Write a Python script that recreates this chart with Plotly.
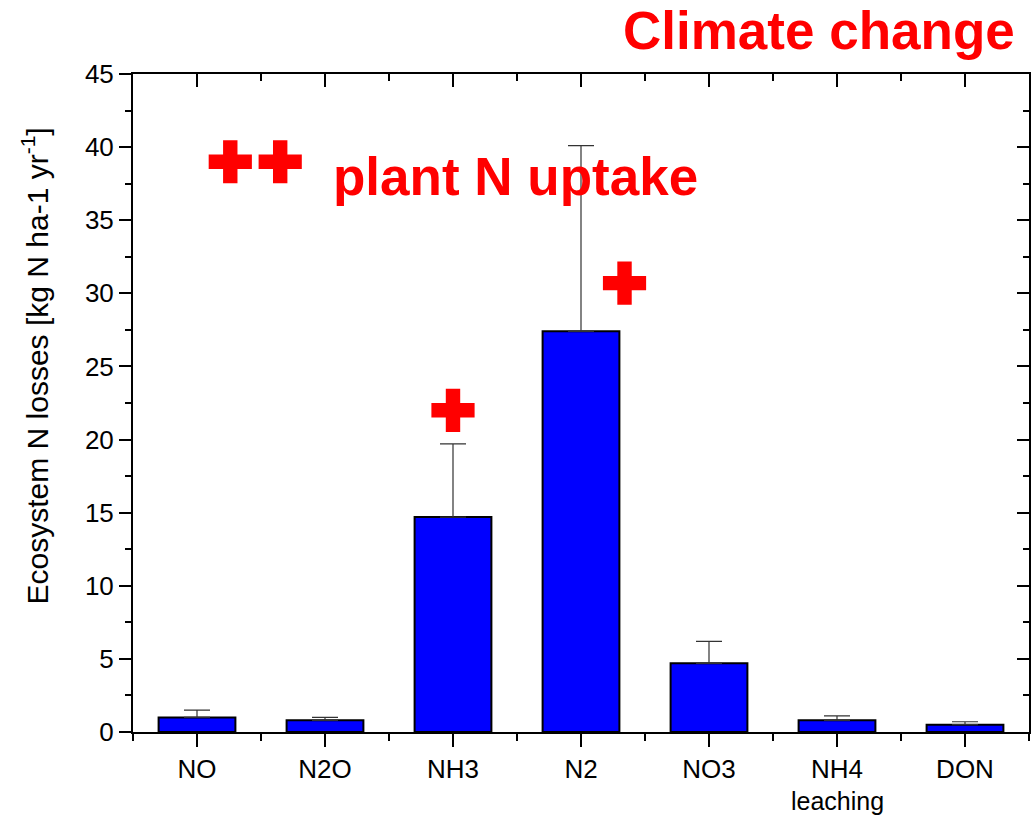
import plotly.graph_objects as go

# ---- data ----
categories = ["NO", "N2O", "NH3", "N2", "NO3", "NH4", "DON"]
losses = [1.0, 0.8, 14.7, 27.4, 4.7, 0.8, 0.5]
errors_up = [0.5, 0.2, 5.0, 12.7, 1.5, 0.3, 0.2]
y_ticks = [0, 5, 10, 15, 20, 25, 30, 35, 40, 45]

# positions of the red "+" significance marks (data coordinates)
plus_x = [0.26, 0.65, 2.0, 3.34]
plus_y = [39.0, 39.0, 22.0, 30.7]

FONT = "Arial, 'Liberation Sans', sans-serif"
x_pos = list(range(len(categories)))
boundaries = [i - 0.5 for i in range(len(categories) + 1)]

fig = go.Figure()
fig.add_trace(go.Bar(
    x=x_pos, y=losses, width=0.6,
    marker=dict(color="#0000FF", line=dict(color="black", width=2)),
    error_y=dict(type="data", array=errors_up, arrayminus=[0] * len(errors_up),
                 symmetric=False, color="#333333", thickness=1.2, width=13),
    showlegend=False, hoverinfo="x+y",
))
fig.add_trace(go.Scatter(
    x=plus_x, y=plus_y, mode="markers",
    marker=dict(symbol="cross", size=36, color="#FF0000", line=dict(width=0)),
    showlegend=False, hoverinfo="skip",
))
# dummy trace for the mirror axes (top/right, inward ticks)
fig.add_trace(go.Scatter(x=[0], y=[0], xaxis="x2", yaxis="y2", mode="markers",
                         marker=dict(size=1, opacity=0),
                         showlegend=False, hoverinfo="skip"))

xr = [-0.5, 6.5]
yr = [0, 45]
fig.update_layout(
    width=1034, height=820,
    margin=dict(l=133, r=5, t=74, b=88),
    paper_bgcolor="white", plot_bgcolor="white",
    font=dict(family=FONT, color="black", size=26),
    bargap=0.4,
    xaxis=dict(
        range=xr, tickmode="array", tickvals=x_pos, ticktext=categories,
        showline=True, linecolor="black", linewidth=2,
        ticks="outside", ticklen=13, tickwidth=2, tickcolor="black",
        minor=dict(tickmode="array", tickvals=boundaries, ticks="outside",
                   ticklen=7, tickwidth=2, tickcolor="black"),
        showgrid=False, zeroline=False,
        tickfont=dict(size=26, family=FONT),
    ),
    yaxis=dict(
        range=yr, tickmode="array", tickvals=y_ticks,
        showline=True, linecolor="black", linewidth=2,
        ticks="outside", ticklen=12, tickwidth=2, tickcolor="black",
        minor=dict(dtick=2.5, tick0=0, ticks="outside", ticklen=6,
                   tickwidth=2, tickcolor="black"),
        showgrid=False, zeroline=False,
        tickfont=dict(size=26, family=FONT),
    ),
    xaxis2=dict(
        range=xr, overlaying="x", side="top", anchor="y2",
        tickmode="array", tickvals=x_pos, showticklabels=False,
        showline=True, linecolor="black", linewidth=2,
        ticks="inside", ticklen=13, tickwidth=2, tickcolor="black",
        minor=dict(tickmode="array", tickvals=boundaries, ticks="inside",
                   ticklen=7, tickwidth=2, tickcolor="black"),
        showgrid=False, zeroline=False,
    ),
    yaxis2=dict(
        range=yr, overlaying="y", side="right", anchor="x2",
        tickmode="array", tickvals=y_ticks, showticklabels=False,
        showline=True, linecolor="black", linewidth=2,
        ticks="inside", ticklen=12, tickwidth=2, tickcolor="black",
        minor=dict(dtick=2.5, tick0=0, ticks="inside", ticklen=6,
                   tickwidth=2, tickcolor="black"),
        showgrid=False, zeroline=False,
    ),
    annotations=[
        dict(text="Climate change", xref="paper", yref="paper",
             x=0.9866, y=1.066, xanchor="right", yanchor="middle",
             showarrow=False, font=dict(size=53, color="#FF0000", family=FONT, weight="bold")),
        dict(text="plant N uptake", xref="x", yref="y",
             x=1.05, y=38.0, xanchor="left", yanchor="middle",
             showarrow=False, font=dict(size=53, color="#FF0000", family=FONT, weight="bold")),
        dict(text="leaching", xref="x", yref="paper",
             x=5, y=-0.105, xanchor="center", yanchor="middle", borderpad=0,
             showarrow=False, font=dict(size=25, color="black", family=FONT)),
        dict(text="Ecosystem N losses [kg N ha-1 yr<sup>-1</sup>]", xref="paper", yref="paper",
             x=-0.109, y=0.556, xanchor="center", yanchor="middle", textangle=-90,
             showarrow=False, font=dict(size=30, color="black", family=FONT)),
    ],
)

fig.write_html("out.html")
